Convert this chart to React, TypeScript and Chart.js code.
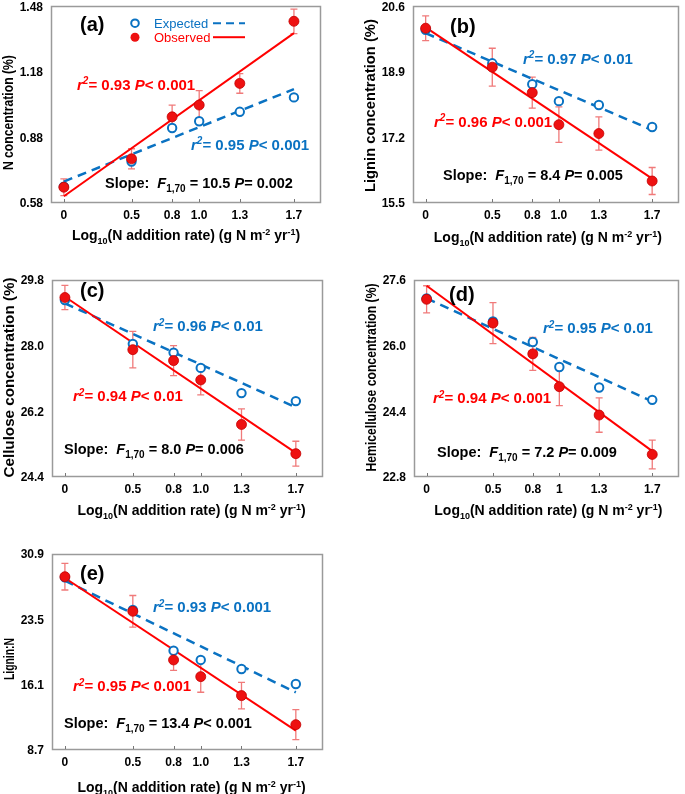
import React, { useEffect, useRef } from "react";
import { Chart, registerables } from "chart.js";

Chart.register(...registerables);

const W = 685;
const H = 794;

// ---------------- data ----------------
const xLevels = [0, 0.5, 0.8, 1.0, 1.3, 1.7];
const xTickLabels = ["0", "0.5", "0.8", "1.0", "1.3", "1.7"];
const xTickLabelsD = ["0", "0.5", "0.8", "1", "1.3", "1.7"];
const fitX = [0, 1.7];

// (a) N concentration (%)
const nTicks = [0.58, 0.88, 1.18, 1.48];
const nExpected = [0.655, 0.77, 0.923, 0.954, 0.997, 1.063];
const nObserved = [0.652, 0.782, 0.974, 1.028, 1.127, 1.411];
const nObservedErr = [0.038, 0.046, 0.054, 0.066, 0.045, 0.056];
const nExpectedFit = [0.678, 1.101];
const nObservedFit = [0.611, 1.357];
const nStats = { blueR2: "0.95", blueP: "< 0.001", redR2: "0.93", redP: "< 0.001", F: "10.5", P: "= 0.002" };

// (b) Lignin concentration (%)
const ligTicks = [15.5, 17.2, 18.9, 20.6];
const ligExpected = [19.99, 19.12, 18.58, 18.14, 18.04, 17.47];
const ligObserved = [20.03, 19.02, 18.36, 17.53, 17.3, 16.07];
const ligObservedErr = [0.32, 0.49, 0.4, 0.46, 0.43, 0.35];
const ligExpectedFit = [19.9, 17.39];
const ligObservedFit = [20.05, 16.13];
const ligStats = { blueR2: "0.97", blueP: "< 0.01", redR2: "0.96", redP: "< 0.001", F: "8.4", P: "= 0.005" };

// (c) Cellulose concentration (%)
const celTicks = [24.4, 26.2, 28.0, 29.8];
const celExpected = [29.25, 28.05, 27.81, 27.39, 26.7, 26.48];
const celObserved = [29.32, 27.89, 27.59, 27.06, 25.84, 25.04];
const celObservedErr = [0.33, 0.5, 0.41, 0.41, 0.43, 0.34];
const celExpectedFit = [29.16, 26.31];
const celObservedFit = [29.34, 25.06];
const celStats = { blueR2: "0.96", blueP: "< 0.01", redR2: "0.94", redP: "< 0.01", F: "8.0", P: "= 0.006" };

// (d) Hemicellulose concentration (%)
const hemTicks = [22.8, 24.4, 26.0, 27.6];
const hemExpected = [27.15, 26.59, 26.09, 25.48, 24.98, 24.68];
const hemObserved = [27.13, 26.55, 25.8, 25.0, 24.31, 23.35];
const hemObservedErr = [0.33, 0.5, 0.4, 0.46, 0.42, 0.35];
const hemExpectedFit = [27.15, 24.64];
const hemObservedFit = [27.46, 23.43];
const hemStats = { blueR2: "0.95", blueP: "< 0.01", redR2: "0.94", redP: "< 0.001", F: "7.2", P: "= 0.009" };

// (e) Lignin:N
const lnTicks = [8.7, 16.1, 23.5, 30.9];
const lnExpected = [28.26, 24.56, 19.95, 18.9, 17.88, 16.18];
const lnObserved = [28.33, 24.41, 18.9, 17.01, 14.86, 11.57];
const lnObservedErr = [1.51, 1.79, 1.17, 1.77, 1.51, 1.7];
const lnExpectedFit = [27.88, 15.23];
const lnObservedFit = [28.18, 10.89];
const lnStats = { blueR2: "0.93", blueP: "< 0.001", redR2: "0.95", redP: "< 0.001", F: "13.4", P: "< 0.001" };

// ---------------- styles ----------------
const FAM = '"Liberation Sans", Arial, Helvetica, sans-serif';
const BLUE = "#0a72c2";
const RED = "#ff0000";
const DOT = "#ee1111";
const ERR = "#f07a7a";
const BOX = "#9a9a9a";

type Seg = { t: string; it?: boolean; sub?: boolean; sup?: boolean };

type Panel = {
  tag: string;
  box: [number, number, number, number];
  yTicks: number[];
  dec: number;
  xLabels: string[];
  expected: number[];
  observed: number[];
  err: number[];
  expFit: number[];
  obsFit: number[];
  yTitle: string;
  yTitleLen: number;
  yTitleDy: number;
  xTitleDx: number;
  xTitleDy: number;
  stats: { blueR2: string; blueP: string; redR2: string; redP: string; F: string; P: string };
  tagPos: [number, number];
  bluePos: [number, number];
  redPos: [number, number];
  slopePos: [number, number];
  legend?: boolean;
};

const panels: Panel[] = [
  {
    tag: "(a)", box: [51, 5, 321, 203], yTicks: nTicks, dec: 2, xLabels: xTickLabels,
    expected: nExpected, observed: nObserved, err: nObservedErr, expFit: nExpectedFit, obsFit: nObservedFit,
    yTitle: "N concentration (%)", yTitleLen: 115, yTitleDy: 8, xTitleDx: 0, xTitleDy: 32,
    stats: nStats, tagPos: [29, 18], bluePos: [140, 138], redPos: [26, 78], slopePos: [54, 177], legend: true,
  },
  {
    tag: "(b)", box: [413, 5, 683, 203], yTicks: ligTicks, dec: 1, xLabels: xTickLabels,
    expected: ligExpected, observed: ligObserved, err: ligObservedErr, expFit: ligExpectedFit, obsFit: ligObservedFit,
    yTitle: "Lignin concentration (%)", yTitleLen: 173, yTitleDy: 1, xTitleDx: 2, xTitleDy: 34,
    stats: ligStats, tagPos: [37, 20], bluePos: [110, 52], redPos: [21, 115], slopePos: [30, 169],
  },
  {
    tag: "(c)", box: [52, 280, 323, 477], yTicks: celTicks, dec: 1, xLabels: xTickLabels,
    expected: celExpected, observed: celObserved, err: celObservedErr, expFit: celExpectedFit, obsFit: celObservedFit,
    yTitle: "Cellulose concentration (%)", yTitleLen: 200, yTitleDy: -1, xTitleDx: 4, xTitleDy: 33,
    stats: celStats, tagPos: [28, 10], bluePos: [101, 46], redPos: [21, 116], slopePos: [12, 169],
  },
  {
    tag: "(d)", box: [414, 280, 683, 477], yTicks: hemTicks, dec: 1, xLabels: xTickLabelsD,
    expected: hemExpected, observed: hemObserved, err: hemObservedErr, expFit: hemExpectedFit, obsFit: hemObservedFit,
    yTitle: "Hemicellulose concentration (%)", yTitleLen: 188, yTitleDy: -1, xTitleDx: 2, xTitleDy: 33,
    stats: hemStats, tagPos: [35, 14], bluePos: [129, 48], redPos: [19, 118], slopePos: [23, 172],
  },
  {
    tag: "(e)", box: [52, 554, 323, 750], yTicks: lnTicks, dec: 1, xLabels: xTickLabels,
    expected: lnExpected, observed: lnObserved, err: lnObservedErr, expFit: lnExpectedFit, obsFit: lnObservedFit,
    yTitle: "Lignin:N", yTitleLen: 42, yTitleDy: 7, xTitleDx: 4, xTitleDy: 37,
    stats: lnStats, tagPos: [28, 19], bluePos: [101, 53], redPos: [21, 132], slopePos: [12, 169],
  },
];

function drawRich(
  ctx: CanvasRenderingContext2D, segs: Seg[], x: number, yMid: number, size: number,
  color: string, align: "left" | "center" = "left", weight = "bold"
) {
  const small = Math.round(size * 0.66);
  const fontOf = (s: Seg) => `${s.it ? "italic " : ""}${weight} ${s.sub || s.sup ? small : size}px ${FAM}`;
  let total = 0;
  segs.forEach((s) => { ctx.font = fontOf(s); total += ctx.measureText(s.t).width; });
  let cx = align === "center" ? x - total / 2 : x;
  const base = yMid + size * 0.36;
  ctx.fillStyle = color;
  ctx.textAlign = "left";
  ctx.textBaseline = "alphabetic";
  segs.forEach((s) => {
    ctx.font = fontOf(s);
    const dy = s.sub ? size * 0.28 : s.sup ? -size * 0.36 : 0;
    ctx.fillText(s.t, cx, base + dy);
    cx += ctx.measureText(s.t).width;
  });
  return total;
}

function measureRich(ctx: CanvasRenderingContext2D, segs: Seg[], size: number) {
  const small = Math.round(size * 0.66);
  let total = 0;
  segs.forEach((s) => {
    ctx.font = `${s.it ? "italic " : ""}bold ${s.sub || s.sup ? small : size}px ${FAM}`;
    total += ctx.measureText(s.t).width;
  });
  return total;
}

const Y_W = 40;
const X_H = 30;

function makeConfig(p: Panel): any {
  const [L, T, R, B] = p.box;
  const pts = (ys: number[], xs: number[]) => ys.map((v, i) => ({ x: xs[i], y: v }));

  const decor = {
    id: "decor",
    beforeDatasetsDraw(chart: any) {
      const { ctx, chartArea: a, scales } = chart;
      const xs = scales.x;
      const ys = scales.y;
      ctx.save();
      // box
      ctx.strokeStyle = BOX;
      ctx.lineWidth = 1.5;
      ctx.strokeRect(Math.round(a.left) + 0.5, Math.round(a.top) + 0.5, Math.round(a.right - a.left) - 1, Math.round(a.bottom - a.top) - 1);
      // inside x tick marks
      ctx.lineWidth = 1;
      ctx.strokeStyle = "#777";
      ctx.beginPath();
      xLevels.forEach((v) => {
        const px = Math.round(xs.getPixelForValue(v)) + 0.5;
        ctx.moveTo(px, a.bottom - 1);
        ctx.lineTo(px, a.bottom - 4);
      });
      ctx.stroke();
      // error bars
      ctx.strokeStyle = ERR;
      ctx.lineWidth = 1.3;
      ctx.beginPath();
      p.observed.forEach((v, i) => {
        const px = xs.getPixelForValue(xLevels[i]);
        const y1 = ys.getPixelForValue(v + p.err[i]);
        const y2 = ys.getPixelForValue(v - p.err[i]);
        ctx.moveTo(px, y1); ctx.lineTo(px, y2);
        ctx.moveTo(px - 3.5, y1); ctx.lineTo(px + 3.5, y1);
        ctx.moveTo(px - 3.5, y2); ctx.lineTo(px + 3.5, y2);
      });
      ctx.stroke();
      ctx.restore();
    },
    afterDraw(chart: any) {
      const { ctx, chartArea: a } = chart;
      ctx.save();
      // y title
      const ySegs: Seg[] = [{ t: p.yTitle }];
      const size = 15;
      const m = measureRich(ctx, ySegs, size);
      ctx.save();
      ctx.translate(a.left - 43, (a.top + a.bottom) / 2 + p.yTitleDy);
      ctx.rotate(-Math.PI / 2);
      ctx.scale(p.yTitleLen / m, 1);
      drawRich(ctx, ySegs, 0, 0, size, "#000", "center");
      ctx.restore();
      // x title
      const xSegs: Seg[] = [
        { t: "Log" }, { t: "10", sub: true }, { t: "(N addition rate) (g N m" }, { t: "-2", sup: true },
        { t: " yr" }, { t: "-1", sup: true }, { t: ")" },
      ];
      drawRich(ctx, xSegs, (a.left + a.right) / 2 + p.xTitleDx, a.bottom + p.xTitleDy, 14, "#000", "center");
      // panel tag
      drawRich(ctx, [{ t: p.tag }], a.left + p.tagPos[0], a.top + p.tagPos[1], 20, "#000");
      // r2 texts
      const r2 = (val: string, pv: string): Seg[] => [
        { t: "r", it: true }, { t: "2", sup: true, it: true }, { t: "= " + val + " " }, { t: "P", it: true }, { t: pv },
      ];
      drawRich(ctx, r2(p.stats.blueR2, p.stats.blueP), a.left + p.bluePos[0], a.top + p.bluePos[1], 15, BLUE);
      drawRich(ctx, r2(p.stats.redR2, p.stats.redP), a.left + p.redPos[0], a.top + p.redPos[1], 15, RED);
      // slope text
      drawRich(ctx, [
        { t: "Slope:  " }, { t: "F", it: true }, { t: "1,70", sub: true }, { t: " = " + p.stats.F + " " },
        { t: "P", it: true }, { t: p.stats.P },
      ], a.left + p.slopePos[0], a.top + p.slopePos[1], 14.5, "#000");
      // legend
      if (p.legend) {
        const lx = a.left + 84;
        const rows: [number, string, string, boolean][] = [
          [a.top + 17, "Expected", BLUE, true],
          [a.top + 31, "Observed", RED, false],
        ];
        rows.forEach(([yy, label, col, open]) => {
          ctx.beginPath();
          ctx.arc(lx, yy, open ? 3.8 : 4.5, 0, Math.PI * 2);
          if (open) { ctx.fillStyle = "#fff"; ctx.fill(); ctx.strokeStyle = BLUE; ctx.lineWidth = 2; ctx.stroke(); }
          else { ctx.fillStyle = DOT; ctx.fill(); }
          drawRich(ctx, [{ t: label }], lx + 19, yy, 13, col, "left", "normal");
          ctx.beginPath();
          ctx.strokeStyle = col;
          ctx.lineWidth = 2;
          ctx.setLineDash(open ? [8, 5] : []);
          ctx.moveTo(a.left + 162, yy);
          ctx.lineTo(a.left + 194, yy);
          ctx.stroke();
          ctx.setLineDash([]);
        });
      }
      ctx.restore();
    },
  };

  return {
    type: "scatter",
    data: {
      datasets: [
        {
          data: pts(p.observed, xLevels), pointRadius: 5, pointHoverRadius: 5,
          backgroundColor: DOT, borderColor: "#c40000", borderWidth: 0.8, showLine: false,
        },
        {
          data: pts(p.expected, xLevels), pointRadius: 4.2, pointHoverRadius: 4.2,
          backgroundColor: "#ffffff", borderColor: BLUE, borderWidth: 2, showLine: false,
        },
        {
          data: pts(p.obsFit, fitX), showLine: true, pointRadius: 0, borderColor: RED, borderWidth: 2,
          backgroundColor: RED,
        },
        {
          data: pts(p.expFit, fitX), showLine: true, pointRadius: 0, borderColor: BLUE, borderWidth: 2.5,
          borderDash: [9, 6], backgroundColor: BLUE,
        },
      ],
    },
    options: {
      responsive: false,
      animation: false,
      events: [],
      devicePixelRatio: 1,
      layout: { padding: { left: L - Y_W, top: T, right: W - R, bottom: H - B - X_H } },
      plugins: { legend: { display: false }, tooltip: { enabled: false } },
      scales: {
        x: {
          type: "linear", min: -0.095, max: 1.9,
          grid: { display: false, drawTicks: false },
          border: { display: false },
          afterBuildTicks: (s: any) => { s.ticks = xLevels.map((v) => ({ value: v })); },
          afterFit: (s: any) => { s.height = X_H; s.paddingLeft = 0; s.paddingRight = 0; },
          ticks: {
            autoSkip: false, maxRotation: 0, padding: 5, color: "#000",
            font: { family: FAM, size: 12, weight: "bold" },
            callback: (_v: any, i: number) => p.xLabels[i],
          },
        },
        y: {
          type: "linear", min: p.yTicks[0], max: p.yTicks[p.yTicks.length - 1],
          grid: { display: false, drawTicks: false },
          border: { display: false },
          afterBuildTicks: (s: any) => { s.ticks = p.yTicks.map((v) => ({ value: v })); },
          afterFit: (s: any) => { s.width = Y_W; s.paddingTop = 0; s.paddingBottom = 0; },
          ticks: {
            autoSkip: false, padding: 8, color: "#000", labelOffset: 1,
            font: { family: FAM, size: 12, weight: "bold" },
            callback: (v: any) => Number(v).toFixed(p.dec),
          },
        },
      },
    },
    plugins: [decor],
  };
}

function PanelChart({ p }: { p: Panel }) {
  const ref = useRef<HTMLCanvasElement>(null);
  useEffect(() => {
    const chart = new Chart(ref.current as HTMLCanvasElement, makeConfig(p));
    return () => chart.destroy();
  }, [p]);
  return (
    <canvas
      ref={ref}
      width={W}
      height={H}
      style={{ position: "absolute", left: 0, top: 0, width: W, height: H }}
    />
  );
}

export default function App() {
  return (
    <div style={{ position: "absolute", left: 0, top: 0, width: W, height: H, background: "#fff", overflow: "hidden" }}>
      {panels.map((p) => (
        <PanelChart key={p.tag} p={p} />
      ))}
    </div>
  );
}
